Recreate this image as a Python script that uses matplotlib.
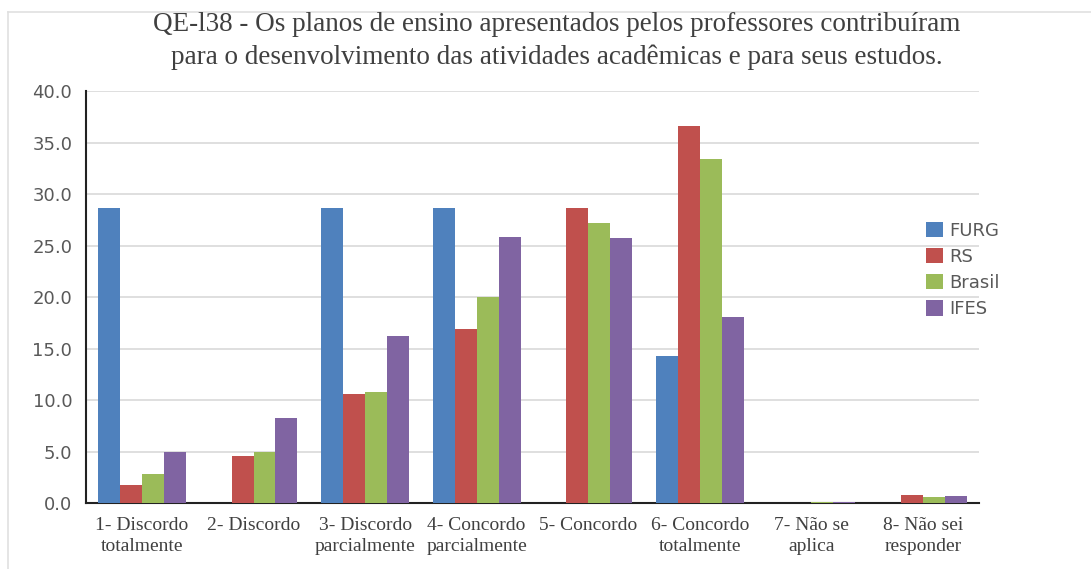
import numpy as np
import matplotlib.pyplot as plt
from matplotlib.lines import Line2D

categories = ["1- Discordo\ntotalmente", "2- Discordo", "3- Discordo\nparcialmente",
              "4- Concordo\nparcialmente", "5- Concordo", "6- Concordo\ntotalmente",
              "7- Não se\naplica", "8- Não sei\nresponder"]
furg = [28.6, 0.0, 28.6, 28.6, 0.0, 14.3, 0.0, 0.0]
rs = [1.7, 4.6, 10.6, 16.9, 28.6, 36.6, 0.0, 0.8]
brasil = [2.8, 5.0, 10.8, 20.0, 27.2, 33.4, 0.1, 0.6]
ifes = [5.0, 8.3, 16.2, 25.8, 25.7, 18.1, 0.1, 0.7]
series_names = ["FURG", "RS", "Brasil", "IFES"]
colors = ["#4F81BD", "#C0504D", "#9BBB59", "#8064A2"]

def main():
    fig = plt.figure(figsize=(10.91, 5.69), dpi=100)
    ax = fig.add_axes([0.079, 0.116, 0.818, 0.724])

    x = np.arange(len(categories))
    width = 0.197
    all_series = [furg, rs, brasil, ifes]

    for i, vals in enumerate(all_series):
        offset = (i - 1.5) * width
        ax.bar(x + offset, vals, width, color=colors[i], label=series_names[i], zorder=3)

    ax.set_xlim(-0.5, len(categories) - 0.5)
    ax.set_ylim(0, 40)
    ax.set_yticks(np.arange(0, 45, 5))
    ax.set_yticklabels(["%.1f" % v for v in np.arange(0, 45, 5)],
                       fontsize=13, color="#595959", family="DejaVu Sans")
    ax.set_xticks(x)
    ax.set_xticklabels(categories, fontsize=14, family="Liberation Serif", color="#404040",
                       linespacing=1.3)
    ax.tick_params(axis="y", length=0, pad=10)
    ax.tick_params(axis="x", length=0, pad=10)

    # Gridlines
    ax.grid(axis="y", color="#d9d9d9", linewidth=1.2, zorder=0)

    for side in ["top", "right"]:
        ax.spines[side].set_visible(False)
    ax.spines["left"].set_color("#222222")
    ax.spines["bottom"].set_color("#222222")
    ax.spines["left"].set_linewidth(1.5)
    ax.spines["bottom"].set_linewidth(1.5)

    fig.text(0.51, 0.957, "QE-l38 - Os planos de ensino apresentados pelos professores contribuíram",
             ha="center", va="center", fontsize=19.5, family="Liberation Serif", color="#404040")
    fig.text(0.51, 0.899, "para o desenvolvimento das atividades acadêmicas e para seus estudos.",
             ha="center", va="center", fontsize=19.5, family="Liberation Serif", color="#404040")

    ax.legend(loc="center left", bbox_to_anchor=(0.941, 0.566), frameon=False,
              prop={"family": "DejaVu Sans", "size": 13}, labelcolor="#595959",
              handlelength=0.95, handleheight=0.95, handletextpad=0.35, labelspacing=0.45,
              borderaxespad=0, borderpad=0)

    # Outer frame lines (top and left)
    fig.add_artist(Line2D([0.0075, 1.0], [0.979, 0.979], color="#e0e0e0", linewidth=1.2,
                          transform=fig.transFigure))
    fig.add_artist(Line2D([0.0075, 0.0075], [0.0, 0.979], color="#e0e0e0", linewidth=1.2,
                          transform=fig.transFigure))

    fig.savefig("out.png", dpi=100)

main()
